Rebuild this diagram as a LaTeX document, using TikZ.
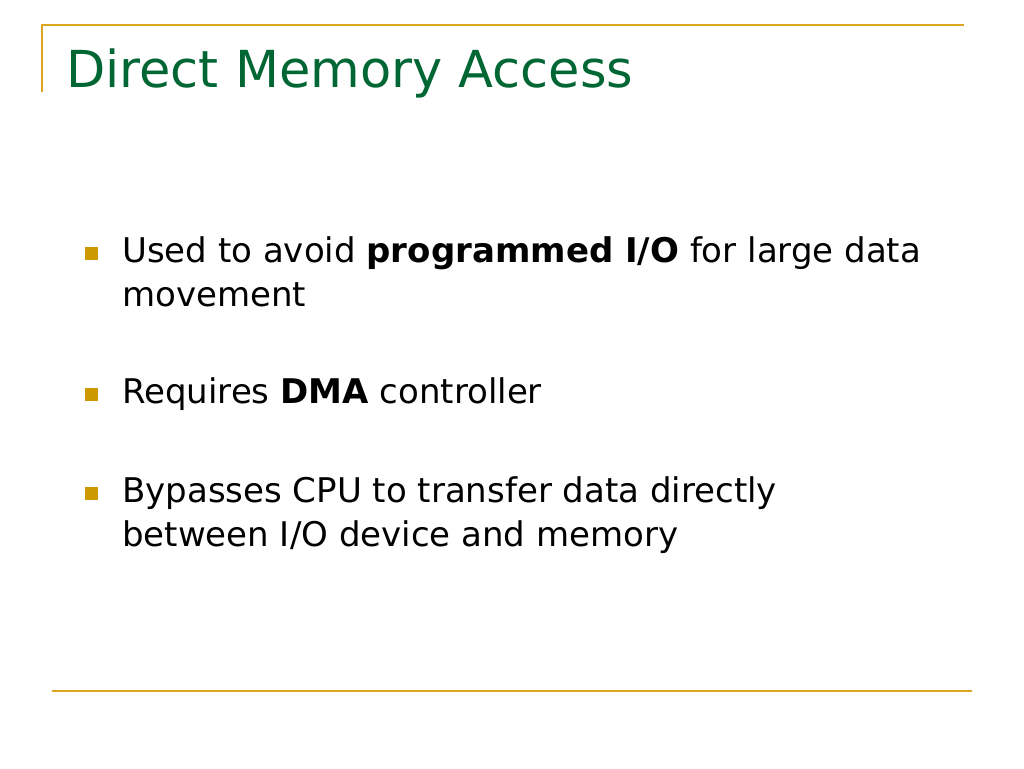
\documentclass[tikz,border=0pt]{standalone}
\usepackage{fontspec}
\setmainfont{DejaVu Sans}
\usepackage{xcolor}
\usepackage{tikz}
\definecolor{titlegreen}{RGB}{0,102,51}
\definecolor{rulegold}{RGB}{218,165,32}
\definecolor{bulletgold}{RGB}{204,153,0}

\begin{document}
\begin{tikzpicture}[x=1pt,y=-1pt,
  rule/.style={rulegold,line width=1.6pt},
  bullet/.style={fill=bulletgold,minimum size=13pt,inner sep=0pt},
  item/.style={anchor=base west,inner sep=0pt,align=left,font=\fontsize{34}{44}\selectfont}]
\useasboundingbox (0,0) rectangle (1024,768);

% Frame rules
\draw[rule] (42,92) -- (42,25) -- (964,25);
\draw[rule] (52,691) -- (972,691);

% Title
\node[anchor=base west,inner sep=0pt,text=titlegreen,font=\fontsize{51}{60}\selectfont]
  (title) at (66,87) {Direct Memory Access};

% Bullet squares
\foreach \y/\name in {262/one,403/two,502/three}
  \node[bullet] (b\name) at (91,\y-9) {};

% Bullet texts (base = baseline of the last line)
\node[item] (one) at (122,306) {Used to avoid \textbf{programmed I/O} for large data\\movement};
\node[item] (two) at (122,403) {Requires \textbf{DMA} controller};
\node[item] (three) at (122,546) {Bypasses CPU to transfer data directly\\between I/O device and memory};
\end{tikzpicture}
\end{document}
